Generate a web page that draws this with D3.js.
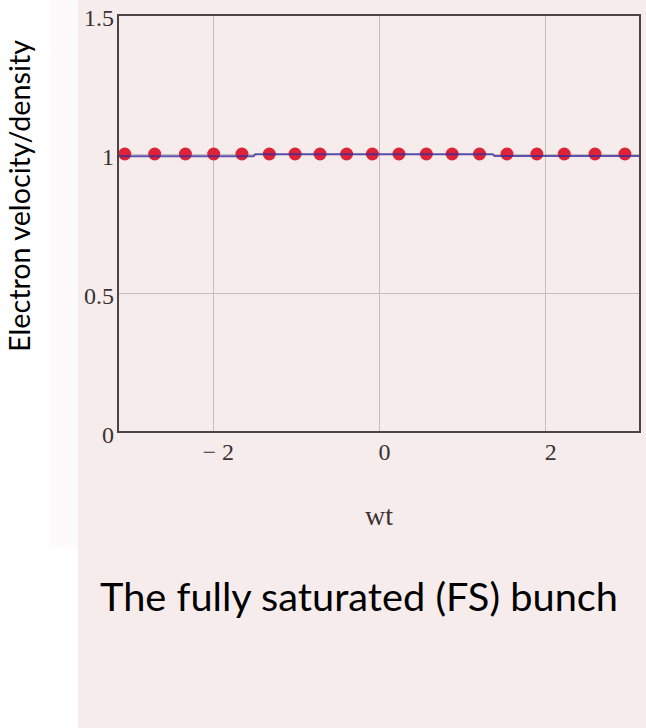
<!DOCTYPE html>
<html>
<head>
<meta charset="utf-8">
<script src="https://cdn.jsdelivr.net/npm/d3@7/dist/d3.min.js"></script>
<style>
  html, body { margin: 0; padding: 0; background: #ffffff; }
  svg { display: block; }
</style>
</head>
<body>
<svg id="chart" width="646" height="728"></svg>
<script>
// Sampled electron positions (phase wt) and their normalised velocity/density
const markerX = [-3.06, -2.70, -2.33, -1.99, -1.65, -1.32, -1.01, -0.71, -0.39, -0.08,
                 0.24, 0.57, 0.88, 1.21, 1.54, 1.90, 2.23, 2.60, 2.96];
const markerY = [1, 1, 1, 1, 1, 1, 1, 1, 1, 1, 1, 1, 1, 1, 1, 1, 1, 1, 1];

// Continuous density curve across the bunch
const lineX = [-3.1416, -1.51, -1.49, 1.37, 1.39, 3.1416];
const lineY = [0.992, 0.992, 0.999, 0.999, 0.993, 0.993];

// Axis ticks and labels
const xTicks = [-2, 0, 2];
const xTickLabels = ["\u2212 2", "0", "2"];
const yTicks = [0, 0.5, 1, 1.5];
const yTickLabels = ["0", "0.5", "1", "1.5"];

const xTitle = "wt";
const yTitle = "Electron velocity/density";
const caption = "The fully saturated (FS) bunch";

const svg = d3.select("#chart");
const W = 646, H = 728;
const plot = { left: 118, right: 640, top: 15, bottom: 432 };

// Background panels
svg.append("rect").attr("x", 51).attr("y", 0).attr("width", 27).attr("height", 547)
  .attr("fill", "#fcfafa");
svg.append("rect").attr("x", 78).attr("y", 0).attr("width", W - 78).attr("height", H)
  .attr("fill", "#f7ecec");

const x = d3.scaleLinear().domain([-Math.PI, Math.PI]).range([plot.left, plot.right]);
const y = d3.scaleLinear().domain([0, 1.5]).range([plot.bottom, plot.top]);

// Grid lines
const grid = svg.append("g").attr("stroke", "#c4bfbf").attr("stroke-width", 1);
grid.selectAll("line.vx").data(xTicks).join("line")
  .attr("x1", d => Math.round(x(d)) + 0.5).attr("x2", d => Math.round(x(d)) + 0.5)
  .attr("y1", plot.top).attr("y2", plot.bottom);
grid.selectAll("line.hy").data(yTicks.filter(d => d > 0 && d < 1.5)).join("line")
  .attr("x1", plot.left).attr("x2", plot.right)
  .attr("y1", d => Math.round(y(d)) + 0.5).attr("y2", d => Math.round(y(d)) + 0.5);

// Axes (labels only, frame drawn separately)
const xAxis = d3.axisBottom(x).tickValues(xTicks).tickSize(0)
  .tickFormat((d, i) => xTickLabels[i]);
const gx = svg.append("g").attr("transform", `translate(0,${plot.bottom})`).call(xAxis);
gx.select(".domain").remove();
gx.selectAll("text")
  .attr("x", 5).attr("y", 28).attr("dy", null)
  .attr("fill", "#3a3333")
  .style("font-family", "'Liberation Serif', 'DejaVu Serif', serif")
  .style("font-size", "24px");

const yAxis = d3.axisLeft(y).tickValues(yTicks).tickSize(0)
  .tickFormat((d, i) => yTickLabels[i]);
const gy = svg.append("g").attr("transform", `translate(${plot.left},0)`).call(yAxis);
gy.select(".domain").remove();
gy.selectAll("text")
  .attr("x", -4).attr("dy", "0.42em")
  .attr("fill", "#3a3333")
  .style("font-family", "'Liberation Serif', 'DejaVu Serif', serif")
  .style("font-size", "24px");

// Markers
const pts = markerX.map((v, i) => [v, markerY[i]]);
svg.append("g").selectAll("circle").data(pts).join("circle")
  .attr("cx", d => x(d[0])).attr("cy", d => y(d[1]))
  .attr("r", 6.5)
  .attr("fill", "#de2338");

// Curve
const linePts = lineX.map((v, i) => [v, lineY[i]]);
svg.append("path").datum(linePts)
  .attr("d", d3.line().x(d => x(d[0])).y(d => y(d[1])))
  .attr("fill", "none")
  .attr("stroke", "#3a2c9e")
  .attr("stroke-opacity", 0.8)
  .attr("stroke-width", 2);

// Plot frame
svg.append("rect")
  .attr("x", plot.left).attr("y", plot.top)
  .attr("width", plot.right - plot.left).attr("height", plot.bottom - plot.top)
  .attr("fill", "none").attr("stroke", "#4a4444").attr("stroke-width", 2);

// Axis titles
svg.append("text")
  .attr("x", 379).attr("y", 525)
  .attr("text-anchor", "middle")
  .attr("fill", "#3a3333")
  .style("font-family", "'Liberation Serif', 'DejaVu Serif', serif")
  .style("font-size", "28px")
  .text(xTitle);

svg.append("text")
  .attr("transform", "translate(30,196) rotate(-90)")
  .attr("text-anchor", "middle")
  .attr("fill", "#000")
  .style("font-family", "Lato, 'Noto Sans', sans-serif")
  .style("font-size", "28px")
  .attr("textLength", 312)
  .attr("lengthAdjust", "spacingAndGlyphs")
  .text(yTitle);

// Caption
svg.append("text")
  .attr("x", 359).attr("y", 611)
  .attr("text-anchor", "middle")
  .attr("fill", "#000")
  .style("font-family", "Lato, 'Noto Sans', sans-serif")
  .style("font-size", "38px")
  .attr("textLength", 518)
  .attr("lengthAdjust", "spacingAndGlyphs")
  .text(caption);
</script>
</body>
</html>
